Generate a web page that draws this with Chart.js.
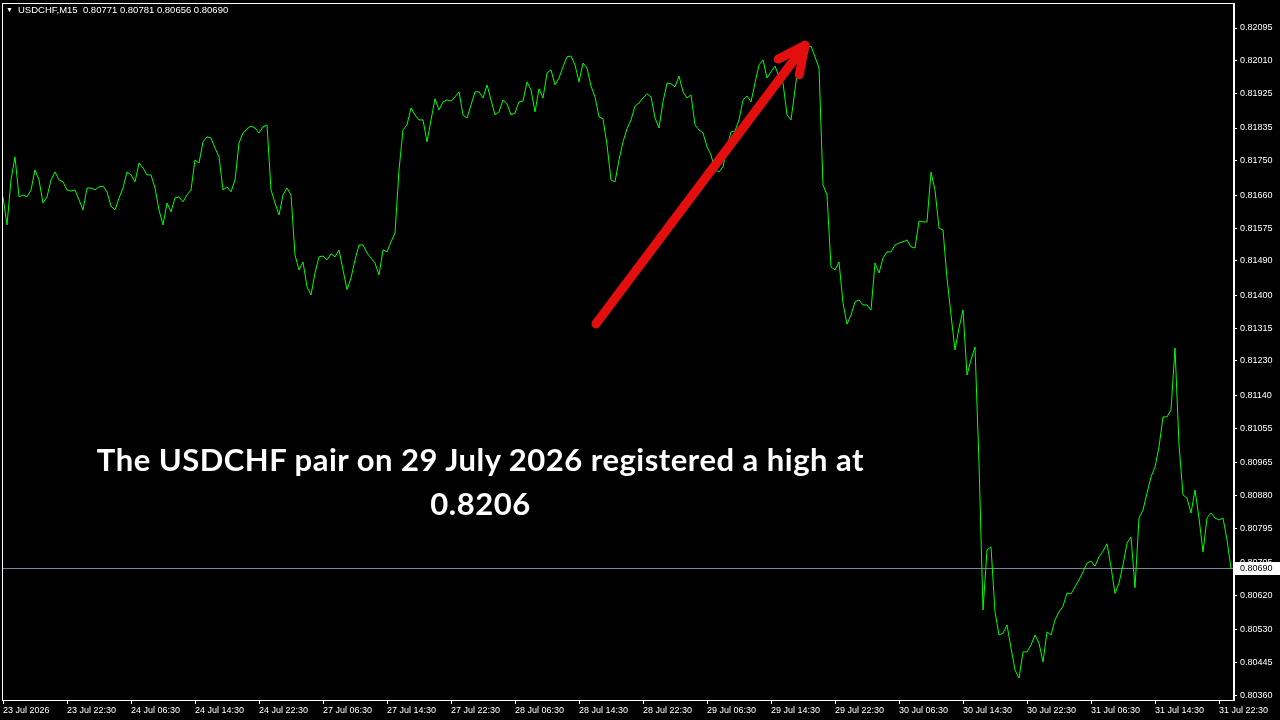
<!DOCTYPE html>
<html>
<head>
<meta charset="utf-8">
<script src="https://cdn.jsdelivr.net/npm/chart.js@4.4.1/dist/chart.umd.min.js"></script>
<style>
  html, body { margin: 0; padding: 0; background: #000; }
  #wrap { position: relative; width: 1280px; height: 720px; overflow: hidden; background: #000; }
  #chart { display: block; }
  .hdr { position: absolute; left: 6px; top: 4px; color: #fff; font: 9.5px "Liberation Sans", Arial, sans-serif; white-space: pre; }
  .hdr .tri { font-size: 7px; display: inline-block; width: 12px; vertical-align: 1px; }
  .note { position: absolute; left: 0; width: 961px; top: 437px; text-align: center; color: #fff; font: 700 31px/44px Lato, sans-serif; letter-spacing: 0.5px; }
</style>
</head>
<body>
<div id="wrap">
  <canvas id="chart" width="1280" height="720"></canvas>
  <div class="hdr"><span class="tri">▼</span>USDCHF,M15  0.80771 0.80781 0.80656 0.80690</div>
  <div class="note">The USDCHF pair on 29 July 2026 registered a high at<br>0.8206</div>
</div>
<script>
// USDCHF M15, sampled every 30 minutes (one value per half hour)
const prices = [
  0.81656, 0.81583, 0.81700, 0.81760, 0.81656, 0.81661, 0.81656, 0.81674, 0.81726, 0.81700, 0.81640, 0.81656, 0.81700, 0.81721, 0.81700, 0.81695,
  0.81674, 0.81671, 0.81674, 0.81648, 0.81622, 0.81679, 0.81679, 0.81674, 0.81682, 0.81684, 0.81669, 0.81632, 0.81622, 0.81653, 0.81679, 0.81721,
  0.81713, 0.81695, 0.81744, 0.81731, 0.81713, 0.81713, 0.81679, 0.81622, 0.81583, 0.81640, 0.81617, 0.81653, 0.81656, 0.81643, 0.81661, 0.81674,
  0.81752, 0.81744, 0.81799, 0.81812, 0.81809, 0.81783, 0.81760, 0.81674, 0.81682, 0.81669, 0.81700, 0.81796, 0.81822, 0.81833, 0.81840, 0.81835,
  0.81822, 0.81838, 0.81843, 0.81674, 0.81640, 0.81609, 0.81661, 0.81679, 0.81661, 0.81505, 0.81466, 0.81487, 0.81422, 0.81401, 0.81458, 0.81500,
  0.81502, 0.81492, 0.81508, 0.81500, 0.81518, 0.81466, 0.81415, 0.81445, 0.81492, 0.81531, 0.81531, 0.81510, 0.81497, 0.81484, 0.81453, 0.81518,
  0.81513, 0.81539, 0.81562, 0.81726, 0.81830, 0.81843, 0.81887, 0.81869, 0.81856, 0.81856, 0.81799, 0.81856, 0.81911, 0.81882, 0.81903, 0.81908,
  0.81905, 0.81916, 0.81929, 0.81869, 0.81861, 0.81895, 0.81929, 0.81929, 0.81913, 0.81947, 0.81908, 0.81869, 0.81877, 0.81908, 0.81898, 0.81869,
  0.81874, 0.81903, 0.81905, 0.81955, 0.81934, 0.81877, 0.81937, 0.81913, 0.81978, 0.81986, 0.81947, 0.81965, 0.81994, 0.82020, 0.82022, 0.81999,
  0.81955, 0.82004, 0.81991, 0.81944, 0.81916, 0.81864, 0.81859, 0.81791, 0.81700, 0.81695, 0.81752, 0.81799, 0.81833, 0.81856, 0.81892, 0.81900,
  0.81913, 0.81924, 0.81916, 0.81861, 0.81835, 0.81903, 0.81952, 0.81950, 0.81942, 0.81970, 0.81929, 0.81913, 0.81921, 0.81843, 0.81830, 0.81822,
  0.81786, 0.81765, 0.81726, 0.81721, 0.81734, 0.81783, 0.81825, 0.81827, 0.81856, 0.81908, 0.81918, 0.81903, 0.81952, 0.81999, 0.82012, 0.81965,
  0.81981, 0.81996, 0.81968, 0.81952, 0.81869, 0.81856, 0.81934, 0.82017, 0.82028, 0.82043, 0.82048, 0.82020, 0.81991, 0.81687, 0.81661, 0.81474,
  0.81466, 0.81487, 0.81380, 0.81325, 0.81349, 0.81383, 0.81388, 0.81375, 0.81375, 0.81362, 0.81484, 0.81458, 0.81497, 0.81513, 0.81513, 0.81531,
  0.81536, 0.81539, 0.81544, 0.81526, 0.81523, 0.81593, 0.81591, 0.81591, 0.81720, 0.81674, 0.81575, 0.81570, 0.81445, 0.81349, 0.81258, 0.81315,
  0.81362, 0.81193, 0.81232, 0.81266, 0.80964, 0.80582, 0.80738, 0.80746, 0.80577, 0.80517, 0.80522, 0.80543, 0.80483, 0.80426, 0.80405, 0.80473,
  0.80473, 0.80491, 0.80517, 0.80496, 0.80447, 0.80525, 0.80517, 0.80556, 0.80577, 0.80592, 0.80626, 0.80624, 0.80642, 0.80660, 0.80681, 0.80704,
  0.80709, 0.80696, 0.80720, 0.80735, 0.80754, 0.80694, 0.80625, 0.80652, 0.80699, 0.80756, 0.80772, 0.80640, 0.80821, 0.80842, 0.80886, 0.80928,
  0.80954, 0.81006, 0.81084, 0.81084, 0.81102, 0.81263, 0.81011, 0.80881, 0.80873, 0.80834, 0.80894, 0.80821, 0.80733, 0.80821, 0.80834, 0.80821,
  0.80816, 0.80821, 0.80764, 0.80690
];

// x ticks every 8 hours (16 half-hour samples)
const xTickIndex = [0, 16, 32, 48, 64, 80, 96, 112, 128, 144, 160, 176, 192, 208, 224, 240, 256, 272, 288, 304];
const xTickLabels = [
  "23 Jul 2026", "23 Jul 22:30", "24 Jul 06:30", "24 Jul 14:30", "24 Jul 22:30",
  "27 Jul 06:30", "27 Jul 14:30", "27 Jul 22:30", "28 Jul 06:30", "28 Jul 14:30",
  "28 Jul 22:30", "29 Jul 06:30", "29 Jul 14:30", "29 Jul 22:30", "30 Jul 06:30",
  "30 Jul 14:30", "30 Jul 22:30", "31 Jul 06:30", "31 Jul 14:30", "31 Jul 22:30"
];
const yTickValues = [
  0.82095, 0.82010, 0.81925, 0.81835, 0.81750, 0.81660, 0.81575, 0.81490, 0.81400, 0.81315, 0.81230,
  0.81140, 0.81055, 0.80965, 0.80880, 0.80795, 0.80705, 0.80620, 0.80530, 0.80445, 0.80360
];
const yMin = 0.80348;
const yMax = 0.82160;
const lastPrice = 0.80690;

// arrow annotation, in data units (sample index, price)
const arrowTail = { x: 148.25, y: 0.81326 };
const arrowTip = { x: 200.5, y: 0.82050 };

const tickFont = { family: "'Liberation Sans', Arial, sans-serif", size: 9 };

const mtPlugin = {
  id: "mt4",
  beforeDatasetsDraw(chart) {
    const { ctx, chartArea: a, scales: { y } } = chart;
    const py = Math.round(y.getPixelForValue(lastPrice)) + 0.5;
    ctx.save();
    ctx.strokeStyle = "#778899";
    ctx.lineWidth = 1;
    ctx.beginPath();
    ctx.moveTo(a.left, py);
    ctx.lineTo(a.right, py);
    ctx.stroke();
    ctx.restore();
  },
  afterDraw(chart) {
    const { ctx, chartArea: a, scales: { x, y } } = chart;
    ctx.save();
    // frame
    ctx.strokeStyle = "#fff";
    ctx.lineWidth = 1;
    ctx.strokeRect(a.left + 0.5, a.top + 0.5, a.right - a.left - 1, a.bottom - a.top);

    // red arrow
    const sx = x.getPixelForValue(arrowTail.x), sy = y.getPixelForValue(arrowTail.y);
    const tx = x.getPixelForValue(arrowTip.x), ty = y.getPixelForValue(arrowTip.y);
    const ang = Math.atan2(ty - sy, tx - sx);
    const len = 30, spread = 0.45;
    ctx.strokeStyle = "#e30e0e";
    ctx.lineWidth = 9;
    ctx.lineCap = "round";
    ctx.lineJoin = "round";
    ctx.beginPath();
    ctx.moveTo(sx, sy);
    ctx.lineTo(tx, ty);
    ctx.stroke();
    ctx.beginPath();
    ctx.moveTo(tx - len * Math.cos(ang - spread), ty - len * Math.sin(ang - spread));
    ctx.lineTo(tx, ty);
    ctx.lineTo(tx - len * Math.cos(ang + spread), ty - len * Math.sin(ang + spread));
    ctx.stroke();

    // current price label on the axis
    const py = Math.round(y.getPixelForValue(lastPrice));
    ctx.fillStyle = "#fff";
    ctx.fillRect(a.right + 1, py - 6, 1280 - a.right - 1, 13);
    ctx.fillStyle = "#000";
    ctx.font = "9px 'Liberation Sans', Arial, sans-serif";
    ctx.textBaseline = "middle";
    ctx.textAlign = "left";
    ctx.fillText(lastPrice.toFixed(5), a.right + 6, py + 1);
    ctx.restore();
  }
};

new Chart(document.getElementById("chart"), {
  type: "line",
  data: {
    datasets: [{
      data: prices.map((p, i) => ({ x: i, y: p })),
      borderColor: "#00ff00",
      borderWidth: 1,
      pointRadius: 0,
      tension: 0
    }]
  },
  options: {
    responsive: false,
    animation: false,
    devicePixelRatio: 1,
    events: [],
    layout: { padding: { left: 2, top: 3, right: 0, bottom: 0 } },
    plugins: { legend: { display: false }, tooltip: { enabled: false } },
    scales: {
      x: {
        type: "linear",
        bounds: "data",
        min: -0.25,
        max: prices.length - 0.25,
        afterBuildTicks: s => { s.ticks = xTickIndex.map(v => ({ value: v })); },
        afterFit: s => { s.height = 20; s.paddingLeft = 0; s.paddingRight = 0; },
        grid: { drawOnChartArea: false, drawTicks: true, tickLength: 4, color: "#fff" },
        border: { display: true, color: "#fff" },
        ticks: {
          color: "#fff",
          font: tickFont,
          padding: 1,
          align: "start",
          maxRotation: 0,
          autoSkip: false,
          callback: v => xTickLabels[xTickIndex.indexOf(v)]
        }
      },
      y: {
        position: "right",
        bounds: "data",
        min: yMin,
        max: yMax,
        afterBuildTicks: s => { s.ticks = yTickValues.map(v => ({ value: v })); },
        afterFit: s => { s.width = 46; s.paddingTop = 0; s.paddingBottom = 0; },
        grid: { drawOnChartArea: false, drawTicks: true, tickLength: 3, color: "#fff" },
        border: { display: true, color: "#fff" },
        ticks: {
          color: "#fff",
          font: tickFont,
          padding: 3,
          autoSkip: false,
          callback: v => v.toFixed(5)
        }
      }
    }
  },
  plugins: [mtPlugin]
});
</script>
</body>
</html>
